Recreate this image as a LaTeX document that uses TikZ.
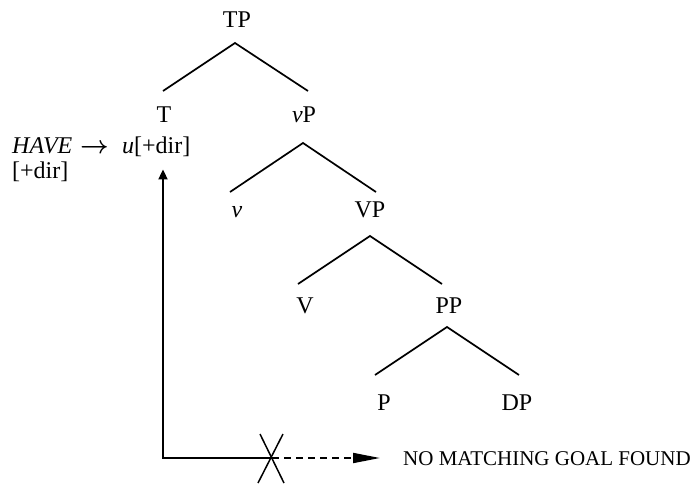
\documentclass[tikz,border=0pt]{standalone}
\usepackage{fontspec}
\setmainfont{Liberation Serif}
\usetikzlibrary{arrows.meta}
\begin{document}
\begin{tikzpicture}[x=1pt,y=-1pt,
  lbl/.style={anchor=base,inner sep=0pt,font=\fontsize{24}{28}\selectfont},
  lblw/.style={lbl,anchor=base west},
  boldarrow/.style={lblw,font=\fontsize{25}{28}\selectfont\boldmath},
  note/.style={anchor=west,inner sep=0pt,font=\fontsize{21}{24}\selectfont},
  branch/.style={line width=1.7pt},
  probe/.style={line width=1.8pt},
  headsmall/.style={-{Triangle[length=10pt,width=9pt]}},
  headbig/.style={-{Triangle[length=27pt,width=10pt]}},
]
\useasboundingbox (0,0) rectangle (694,483);

% tree labels
\node[lbl] (TP) at (237,27) {TP};
\node[lbl] (T)  at (164,122) {T};
\node[lbl] (vP) at (304,122) {\textit{v}P};
\node[lbl] (v)  at (237,217) {\textit{v}};
\node[lbl] (VP) at (370,217) {VP};
\node[lbl] (V)  at (305,313) {V};
\node[lbl] (PP) at (449,313) {PP};
\node[lbl] (P)  at (384,410) {P};
\node[lbl] (DP) at (517,410) {DP};

% features on T
\node[lblw] (have)  at (12,153) {\textit{HAVE}};
\node[boldarrow] (arr) at (80,153) {$\rightarrow$};
\node[lblw] (ufeat) at (122,153) {\textit{u}[+dir]};
\node[lblw] (dir)   at (12,178) {[+dir]};

% branches
\coordinate (TP-fork) at (235,43);
\coordinate (TP-l) at (163,91);
\coordinate (TP-r) at (308,91);
\coordinate (vP-fork) at (303,143);
\coordinate (vP-l) at (230,192);
\coordinate (vP-r) at (376,192);
\coordinate (VP-fork) at (370,236);
\coordinate (VP-l) at (298,284);
\coordinate (VP-r) at (442,284);
\coordinate (PP-fork) at (447,327);
\coordinate (PP-l) at (375,375);
\coordinate (PP-r) at (519,375);
\draw[branch] (TP-l) -- (TP-fork) -- (TP-r);
\draw[branch] (vP-l) -- (vP-fork) -- (vP-r);
\draw[branch] (VP-l) -- (VP-fork) -- (VP-r);
\draw[branch] (PP-l) -- (PP-fork) -- (PP-r);

% failed probe
\node[note] (nogoal) at (403,459) {NO MATCHING GOAL FOUND};
\coordinate (probe-corner) at (163,458);
\coordinate (probe-cross) at (272,458);
\draw[probe,headsmall,shorten >=13pt] (probe-cross) -- (probe-corner) -- (probe-corner |- ufeat.south);
\draw[probe,headbig,dash pattern=on 7pt off 5pt,shorten >=23pt] (probe-cross) -- (probe-cross -| nogoal.west);
\draw[line width=1.5pt] ([shift={(-12,-24)}]probe-cross) -- ([shift={(12,25)}]probe-cross);
\draw[line width=1.5pt] ([shift={(11,-24)}]probe-cross) -- ([shift={(-14,25)}]probe-cross);
\end{tikzpicture}
\end{document}
